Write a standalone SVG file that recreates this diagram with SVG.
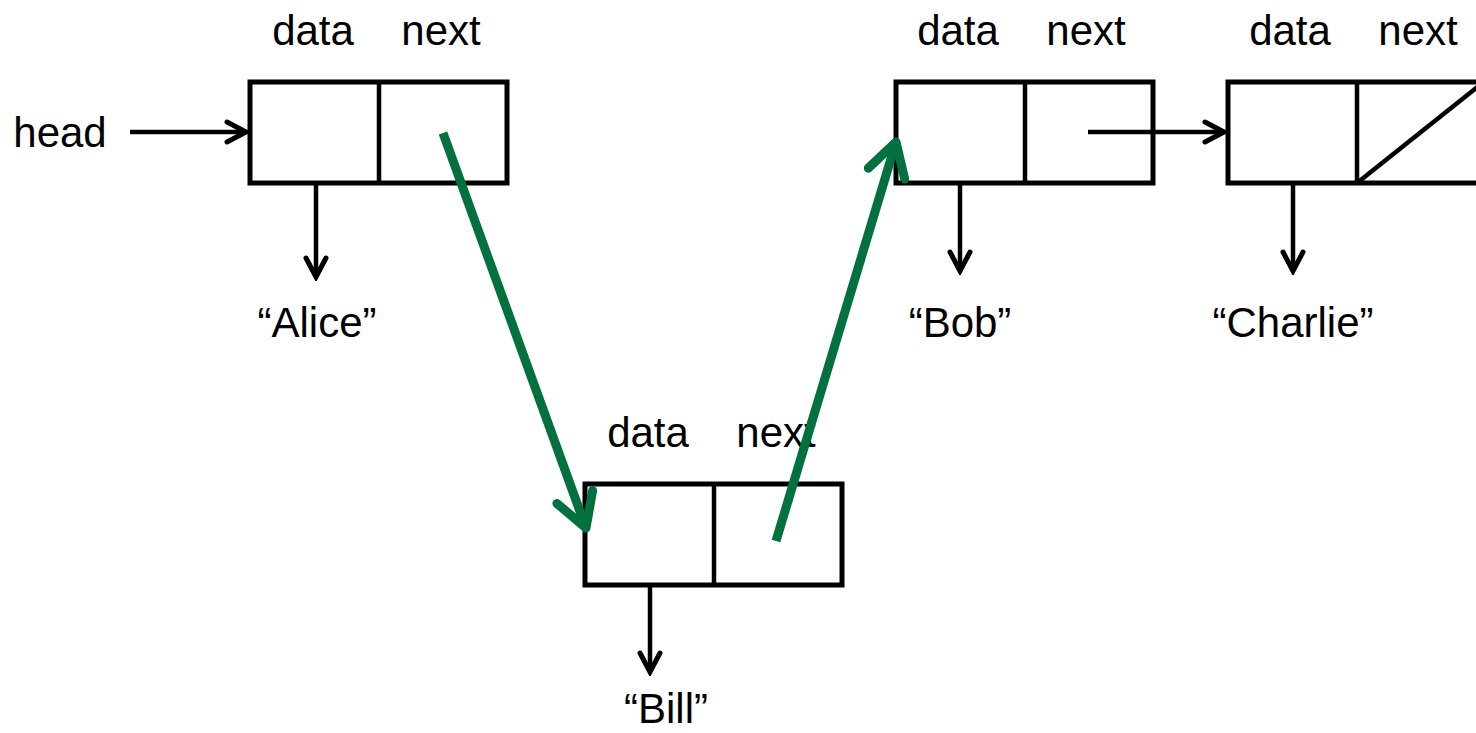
<svg xmlns="http://www.w3.org/2000/svg" width="1476" height="733" viewBox="0 0 1476 733">
<defs>
<style>
text{font-family:"Liberation Sans",Arial,sans-serif;font-size:42px;fill:#000;text-anchor:middle}
.box{fill:#fff;stroke:#000;stroke-width:5;stroke-linejoin:miter}
.ln{stroke:#000;stroke-width:4.5}
.bk{fill:none;stroke:#000;stroke-width:4.5;marker-end:url(#ah)}
.gr{fill:none;stroke:#03713D;stroke-width:9;marker-end:url(#gh)}
</style>
<marker id="ah" markerUnits="userSpaceOnUse" viewBox="-26 -14 30 28" markerWidth="30" markerHeight="28" refX="0" refY="0" orient="auto">
<path d="M-19,-10 L0,0 L-19,10" fill="none" stroke="#000" stroke-width="5" stroke-linecap="round"/>
</marker>
<marker id="gh" markerUnits="userSpaceOnUse" viewBox="-40 -25 46 50" markerWidth="46" markerHeight="50" refX="0" refY="0" orient="auto">
<path d="M-33,-19 L0,0 L-33,19" fill="none" stroke="#03713D" stroke-width="9" stroke-linecap="round" stroke-linejoin="round"/>
</marker>
</defs>
<rect width="1476" height="733" fill="#fff"/>
<g id="head"><text x="60" y="147">head</text></g>
<g id="alice">
<rect class="box" x="250" y="82" width="257" height="101"/>
<line class="ln" x1="379" y1="82" x2="379" y2="183"/>
<text x="313" y="45">data</text><text x="441" y="45">next</text>
<text x="317" y="337">“Alice”</text>
</g>
<g id="bill">
<rect class="box" x="585" y="484" width="257" height="101"/>
<line class="ln" x1="714" y1="484" x2="714" y2="585"/>
<text x="648" y="447">data</text><text x="776" y="447">next</text>
<text x="666" y="723">“Bill”</text>
</g>
<g id="bob">
<rect class="box" x="896" y="82" width="257" height="101"/>
<line class="ln" x1="1025" y1="82" x2="1025" y2="183"/>
<text x="958" y="45">data</text><text x="1086" y="45">next</text>
<text x="960" y="337">“Bob”</text>
</g>
<g id="charlie">
<rect class="box" x="1228" y="82" width="257" height="101"/>
<line class="ln" x1="1357" y1="82" x2="1357" y2="183"/>
<line class="ln" x1="1357" y1="183" x2="1485" y2="81"/>
<text x="1290" y="45">data</text><text x="1418" y="45">next</text>
<text x="1293" y="337">“Charlie”</text>
</g>
<g id="connectors">
<line class="bk" x1="130" y1="132" x2="246" y2="132"/>
<line class="bk" x1="316" y1="185" x2="316" y2="277"/>
<line class="bk" x1="650" y1="587" x2="650" y2="672"/>
<line class="bk" x1="960" y1="185" x2="960" y2="271"/>
<line class="bk" x1="1293" y1="185" x2="1293" y2="271"/>
<line class="bk" x1="1088" y1="132" x2="1224" y2="132"/>
<line class="gr" x1="443" y1="133" x2="586" y2="528"/>
<line class="gr" x1="776" y1="541" x2="896" y2="142"/>
</g>
</svg>
